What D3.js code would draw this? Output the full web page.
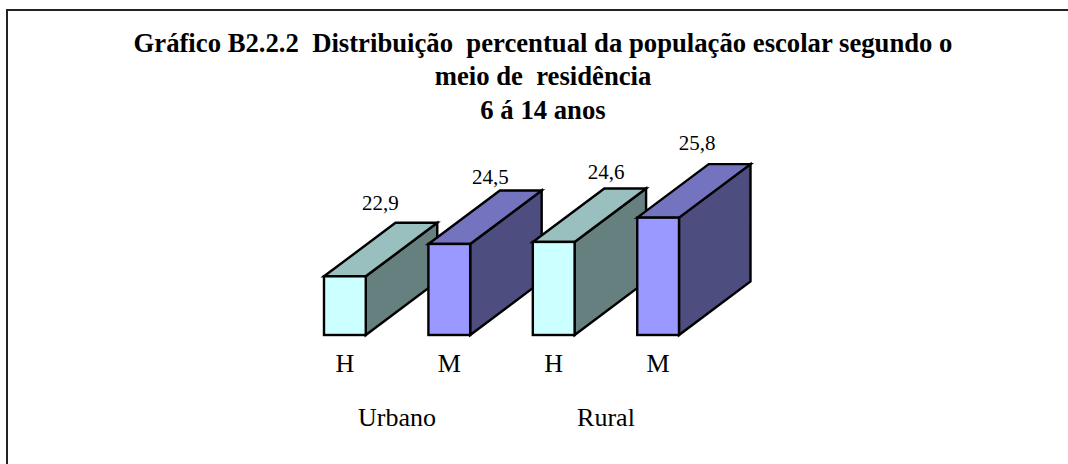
<!DOCTYPE html>
<html><head><meta charset="utf-8">
<script src="https://d3js.org/d3.v7.min.js"></script>
<style>html,body{margin:0;padding:0;background:#fff}svg{display:block}text{font-family:"Liberation Serif",serif;fill:#000;white-space:pre}</style>
</head><body><div id="c"></div>
<script>
const titleLines = ["Gráfico B2.2.2  Distribuição  percentual da população escolar segundo o","meio de  residência","6 á 14 anos"];
const categories = ["H","M","H","M"];
const values = [22.9,24.5,24.6,25.8];
const valueLabels = ["22,9","24,5","24,6","25,8"];
const groups = ["Urbano","Rural"];
const frontColors = ["#ccffff","#9999ff","#ccffff","#9999ff"];
const topColors = ["#99c0bf","#7373bf","#99c0bf","#7373bf"];
const sideColors = ["#66807f","#4d4d7f","#66807f","#4d4d7f"];

const W=1068,H=464;
const svg=d3.select("#c").append("svg").attr("width",W).attr("height",H);
svg.append("path").attr("d",`M7,${H}V10H${W}`).attr("fill","none").attr("stroke","#222").attr("stroke-width",2);

const x=d3.scaleBand().domain(d3.range(4)).range([324,679]).paddingInner(0.6).paddingOuter(0);
const y=d3.scaleLinear().domain([20,26]).range([335,213.6]);
const dx=71.5,dy=53.5;
const titleY=[52,85,118.5];
const labelDx=[35.5,41,52.5,39], labelDy=[12.5,6,9,14];
const groupX=[397,606];

svg.append("g").selectAll("text").data(titleLines).join("text")
 .attr("x",543).attr("y",(d,i)=>titleY[i]).attr("text-anchor","middle")
 .attr("font-size",26.7).attr("font-weight","bold").text(d=>d);

const g=svg.append("g").attr("stroke","#000").attr("stroke-width",2.4).attr("stroke-linejoin","miter");
const bars=g.selectAll("g").data(values).join("g");
const xl=(d,i)=>x(i), xr=(d,i)=>x(i)+x.bandwidth();
bars.append("path").attr("fill",(d,i)=>sideColors[i])
 .attr("d",(d,i)=>`M${xr(d,i)},${y(d)}L${xr(d,i)+dx},${y(d)-dy}V${y(20)-dy}L${xr(d,i)},${y(20)}Z`);
bars.append("path").attr("fill",(d,i)=>topColors[i])
 .attr("d",(d,i)=>`M${xl(d,i)},${y(d)}L${xl(d,i)+dx},${y(d)-dy}H${xr(d,i)+dx}L${xr(d,i)},${y(d)}Z`);
bars.append("rect").attr("fill",(d,i)=>frontColors[i])
 .attr("x",xl).attr("y",d=>y(d)).attr("width",x.bandwidth()).attr("height",d=>y(20)-y(d));

svg.append("g").selectAll("text").data(values).join("text")
 .attr("x",(d,i)=>x(i)+x.bandwidth()/2+labelDx[i]).attr("y",(d,i)=>y(d)-dy-labelDy[i])
 .attr("text-anchor","middle").attr("font-size",21).text((d,i)=>valueLabels[i]);
svg.append("g").selectAll("text").data(categories).join("text")
 .attr("x",(d,i)=>x(i)+x.bandwidth()/2).attr("y",371.5)
 .attr("text-anchor","middle").attr("font-size",26).text(d=>d);
svg.append("g").selectAll("text").data(groups).join("text")
 .attr("x",(d,i)=>groupX[i]).attr("y",426)
 .attr("text-anchor","middle").attr("font-size",26).text(d=>d);
</script></body></html>
